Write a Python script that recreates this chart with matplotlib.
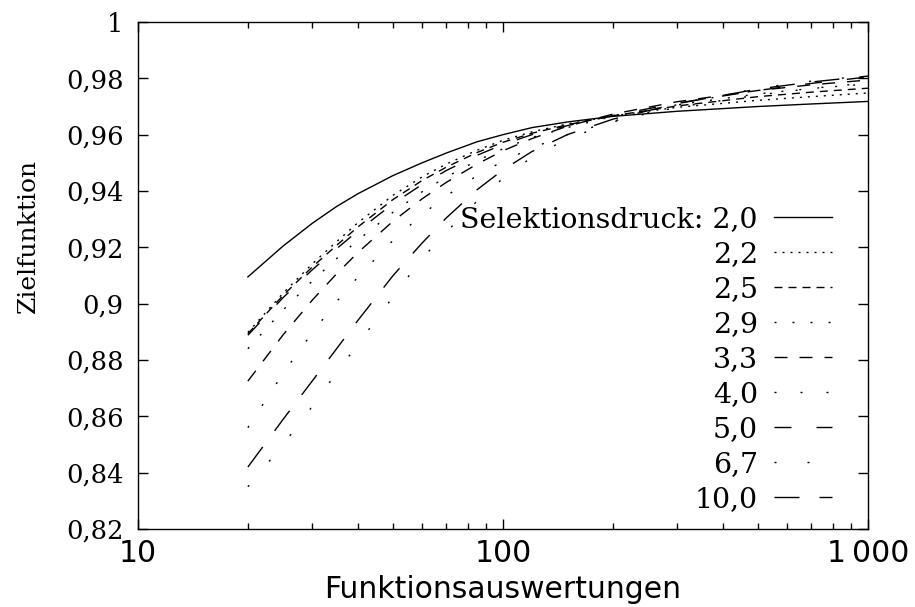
import matplotlib
matplotlib.use("Agg")
import matplotlib.pyplot as plt
from matplotlib.ticker import FixedLocator, FixedFormatter, NullFormatter

# ---- data ----
evaluations = [20, 25, 30, 35, 40, 50, 60, 70, 85, 100, 120, 150, 200, 300, 500, 700, 1000]
pressure_labels = ["2,0", "2,2", "2,5", "2,9", "3,3", "4,0", "5,0", "6,7", "10,0"]
obj_2_0 = [0.9095, 0.9205, 0.9285, 0.9345, 0.9390, 0.9455, 0.9500, 0.9535, 0.9575, 0.9600,
           0.9625, 0.9645, 0.9665, 0.9683, 0.9700, 0.9709, 0.9718]
obj_2_2 = [0.8898, 0.9038, 0.9141, 0.9220, 0.9287, 0.9385, 0.9450, 0.9496, 0.9545, 0.9580,
           0.9610, 0.9638, 0.9667, 0.9697, 0.9722, 0.9735, 0.9748]
obj_2_5 = [0.8893, 0.9030, 0.9130, 0.9207, 0.9272, 0.9370, 0.9437, 0.9485, 0.9537, 0.9573,
           0.9605, 0.9635, 0.9667, 0.9702, 0.9735, 0.9751, 0.9765]
obj_2_9 = [0.8840, 0.8978, 0.9080, 0.9160, 0.9225, 0.9325, 0.9397, 0.9450, 0.9508, 0.9550,
           0.9590, 0.9625, 0.9665, 0.9706, 0.9745, 0.9764, 0.9780]
obj_3_3 = [0.8725, 0.8890, 0.9012, 0.9106, 0.9181, 0.9293, 0.9372, 0.9431, 0.9496, 0.9543,
           0.9586, 0.9630, 0.9673, 0.9717, 0.9757, 0.9777, 0.9794]
obj_4_0 = [0.8560, 0.8754, 0.8896, 0.9007, 0.9094, 0.9225, 0.9316, 0.9383, 0.9455, 0.9506,
           0.9553, 0.9600, 0.9648, 0.9697, 0.9741, 0.9764, 0.9784]
obj_5_0 = [0.8888, 0.9022, 0.9120, 0.9195, 0.9258, 0.9355, 0.9423, 0.9473, 0.9527, 0.9565,
           0.9600, 0.9632, 0.9668, 0.9712, 0.9757, 0.9782, 0.9805]
obj_6_7 = [0.8350, 0.8500, 0.8635, 0.8755, 0.8855, 0.9025, 0.9160, 0.9255, 0.9365, 0.9445,
           0.9520, 0.9585, 0.9645, 0.9705, 0.9765, 0.9790, 0.9810]
obj_10_0 = [0.8420, 0.8590, 0.8725, 0.8840, 0.8940, 0.9100, 0.9215, 0.9305, 0.9405, 0.9475,
            0.9540, 0.9600, 0.9655, 0.9710, 0.9762, 0.9787, 0.9808]
series = [obj_2_0, obj_2_2, obj_2_5, obj_2_9, obj_3_3, obj_4_0, obj_5_0, obj_6_7, obj_10_0]

x_ticks = [10, 100, 1000]
x_tick_labels = ["10", "100", "1\u2009000"]
y_ticks = [0.82, 0.84, 0.86, 0.88, 0.90, 0.92, 0.94, 0.96, 0.98, 1.0]
y_tick_labels = ["0,82", "0,84", "0,86", "0,88", "0,9", "0,92", "0,94", "0,96", "0,98", "1"]

# ---- styles ----
PX = 72.0 / 100.0  # pixels -> points at dpi 100
dash_px = [None, (2, 6), (8, 6), (2, 16), (13, 12), (2, 24), (17, 25), (2, 31), (25, 20)]

plt.rcParams['lines.scale_dashes'] = False
serif = ['DejaVu Serif']
sans = ['DejaVu Sans']

fig = plt.figure(figsize=(9.15, 6.07), dpi=100)
ax = fig.add_axes([138 / 915, 1 - 529 / 607, 730 / 915, 507 / 607])

for i, (vals, lab) in enumerate(zip(series, pressure_labels)):
    label = ("Selektionsdruck: " + lab) if i == 0 else lab
    line, = ax.plot(evaluations, vals, color='black', lw=1.0, label=label)
    if dash_px[i] is not None:
        line.set_dashes([d * PX for d in dash_px[i]])
        line.set_dash_capstyle('butt')

ax.set_xscale('log')
ax.set_xlim(10, 1000)
ax.set_ylim(0.82, 1.0)

ax.xaxis.set_major_locator(FixedLocator(x_ticks))
ax.xaxis.set_major_formatter(FixedFormatter(x_tick_labels))
minor = [m * d for d in (10, 100) for m in range(2, 10)]
ax.xaxis.set_minor_locator(FixedLocator(minor))
ax.xaxis.set_minor_formatter(NullFormatter())
ax.yaxis.set_major_locator(FixedLocator(y_ticks))
ax.yaxis.set_major_formatter(FixedFormatter(y_tick_labels))
ax.yaxis.set_minor_locator(FixedLocator([]))

ax.tick_params(which='both', direction='in', top=True, right=True, width=1.0, colors='black')
ax.tick_params(which='major', length=7.5)
ax.tick_params(which='minor', length=4)
ax.tick_params(axis='y', which='major', pad=10.5)
ax.tick_params(axis='x', which='major', pad=7.5)
for lbl in ax.get_yticklabels():
    lbl.set_fontfamily(serif)
    lbl.set_fontsize(18.5)
for lbl in ax.get_xticklabels():
    lbl.set_fontfamily(sans)
    lbl.set_fontsize(21.5)
for sp in ax.spines.values():
    sp.set_linewidth(1.0)

ax.set_xlabel("Funktionsauswertungen", fontfamily=sans, fontsize=21.5, labelpad=5)
ax.set_ylabel("Zielfunktion", fontfamily=serif, fontsize=18)
ax.yaxis.set_label_coords((40 - 138) / 730, 1 - (236 - 22) / 507)

leg = ax.legend(loc='upper right', bbox_to_anchor=((832 - 138) / 730, 1 - (206 - 22) / 507),
                frameon=False, markerfirst=False, handlelength=2.04, handletextpad=0.56,
                labelspacing=0.28, borderpad=0, borderaxespad=0,
                prop={'family': serif, 'size': 20.5})

fig.savefig("out.png", dpi=100)
